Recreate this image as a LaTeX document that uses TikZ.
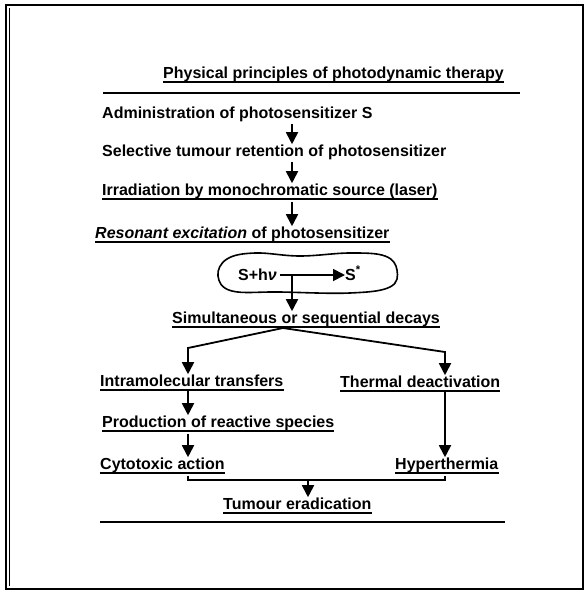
\documentclass[tikz,border=0pt]{standalone}
\usepackage{fontspec}
\setmainfont{Liberation Sans}
\usetikzlibrary{arrows.meta}
\begin{document}
\begin{tikzpicture}[x=1pt,y=-1pt,
  lbl/.style={anchor=base west,inner sep=0pt,font=\fontsize{16}{18}\selectfont\bfseries},
  ulw/.style={line width=1.7pt},
  rule/.style={line width=1.5pt},
  arr/.style={line width=1.8pt,-{Triangle[width=12pt,length=12pt]}},
  ln/.style={line width=1.8pt}]
\useasboundingbox (0,0) rectangle (585,594);
\draw[line width=1.6pt] (6,5) rectangle (583,589);
\draw[line width=0.8pt] (9,8) -- (9,586);
% texts
\node[lbl] (title) at (163,78) {Physical principles of photodynamic therapy};
\node[lbl] (admin) at (102,118) {Administration of photosensitizer S};
\node[lbl] (sel) at (102,156) {Selective tumour retention of photosensitizer};
\node[lbl] (irr) at (102,195) {Irradiation by monochromatic source (laser)};
\node[lbl] (res) at (95,238) {\itshape Resonant excitation\upshape{} of photosensitizer};
\node[lbl] (shv) at (238,280) {S+h\textit{ν}};
\node[lbl] (sst) at (345,280) {S\textsuperscript{*}};
\node[lbl] (sim) at (172,323) {Simultaneous or sequential decays};
\node[lbl] (intra) at (100,386) {Intramolecular transfers};
\node[lbl] (therm) at (340,387) {Thermal deactivation};
\node[lbl] (prod) at (102,427) {Production of reactive species};
\node[lbl] (cyto) at (100,469) {Cytotoxic action};
\node[lbl] (hyper) at (395,469) {Hyperthermia};
\node[lbl] (tum) at (223,509) {Tumour eradication};
% underlines
\foreach \n in {title,irr,res,sim,intra,therm,prod,cyto,hyper,tum}
  \draw[ulw] ([yshift=-4pt]\n.base west) -- ([yshift=-4pt]\n.base east);
% rules
\coordinate (r1a) at (103,93); \coordinate (r1b) at (520,93);
\draw[rule] (r1a) -- (r1b);
\coordinate (r2a) at (100,522); \coordinate (r2b) at (505,522);
\draw[rule] (r2a) -- (r2b);
% main stem
\coordinate (c) at (292,0);
\draw[arr] ([yshift=-2pt]admin.south -| c) -- (sel.north -| c);
\draw[arr] ([yshift=-2pt]sel.south -| c) -- (irr.north -| c);
\draw[arr] ([yshift=-3pt]irr.south -| c) -- (res.north -| c);
% blob
\draw[line width=1.6pt] plot[smooth cycle, tension=0.65] coordinates
  {(218,276) (227,259) (255,253) (300,256) (350,253) (385,256) (397,270) (390,287) (350,293) (280,292) (232,291)};
\draw[arr] ([xshift=3pt,yshift=5pt]shv.base east) -- ([yshift=5pt]sst.base west);
\coordinate (hl) at ([yshift=5pt]shv.base east -| c);
\draw[arr] (hl) -- (sim.north -| c);
% branches
\coordinate (br) at (283,328);
\coordinate (lk) at (188,348);
\coordinate (rk) at (445,352);
\draw[arr] (br) -- (lk) -- (lk |- intra.north);
\draw[arr] (br) -- (rk) -- (rk |- therm.north);
\draw[arr] ([yshift=-3pt]intra.south -| lk) -- (prod.north -| lk);
\draw[arr] ([yshift=-3pt]prod.south -| lk) -- (cyto.north -| lk);
\draw[arr] ([yshift=-3pt]therm.south -| rk) -- (hyper.north -| rk);
% join
\coordinate (jl) at (188,480);
\coordinate (jr) at (445,480);
\coordinate (jm) at (308,480);
\draw[ln] ([yshift=-3pt]cyto.south -| jl) -- (jl) -- (jr) -- ([yshift=-3pt]hyper.south -| jr);
\draw[arr] (jm) -- (jm |- tum.north);
\end{tikzpicture}
\end{document}
